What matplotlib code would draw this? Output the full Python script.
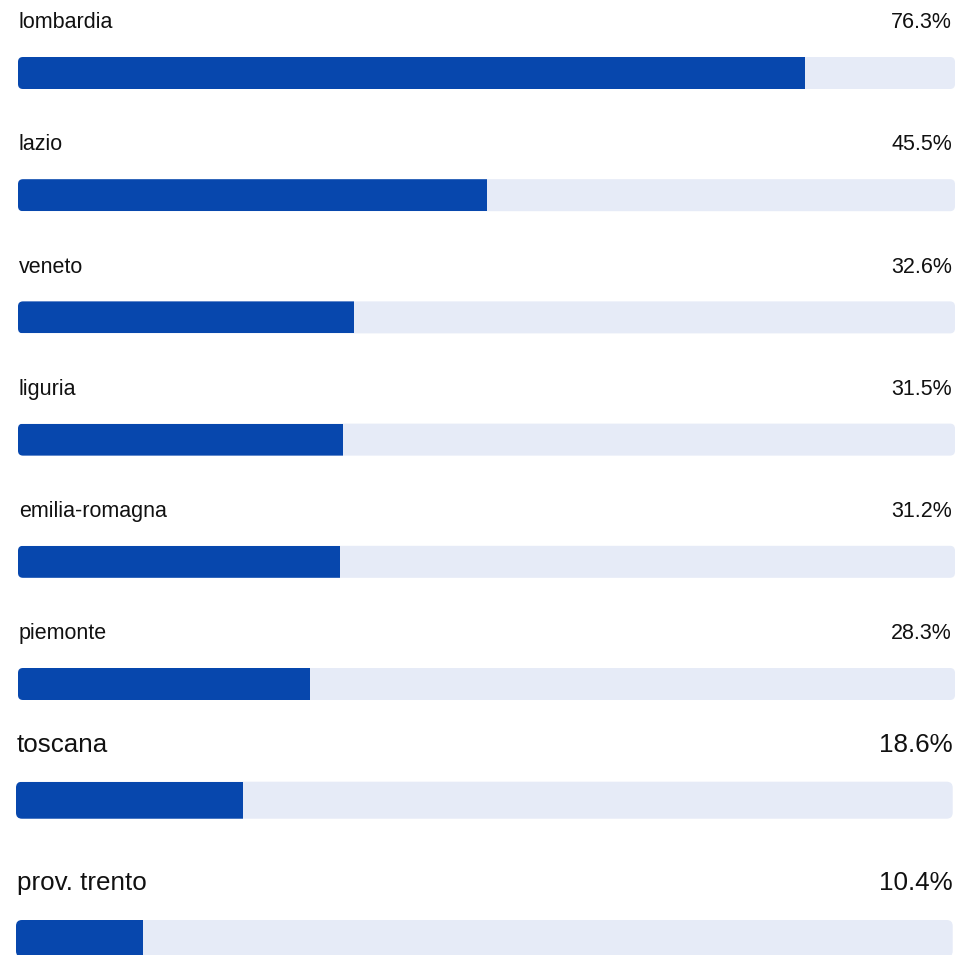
import numpy as np
import matplotlib
matplotlib.use("Agg")
import matplotlib.pyplot as plt
from matplotlib.patches import FancyBboxPatch

# share per region (%)
regions = ["lombardia", "lazio", "veneto", "liguria", "emilia-romagna",
           "piemonte", "toscana", "prov. trento"]
shares = [76.3, 45.5, 32.6, 31.5, 31.2, 28.3, 18.6, 10.4]

# the picture is two screenshots stacked; each has its own scale/look
groups = [
    dict(rows=range(0, 6), x0=18, x1=955, top0=57, step=122.2, h=32,
         base=-28.7, fs=15.5, pad=3, vmax=90.9, r=5),
    dict(rows=range(6, 8), x0=16, x1=952.7, top0=781.7, step=138.3, h=37,
         base=-30.0, fs=18.7, pad=0, vmax=76.6, r=6),
]

blue = "#0747ad"
track = "#e6ebf7"

plt.rcParams['font.family'] = ['Liberation Sans', 'DejaVu Sans']

fig = plt.figure(figsize=(9.62, 9.55), dpi=100)
ax = fig.add_axes([0, 0, 1, 1])
ax.set_xlim(0, 962)
ax.set_ylim(955, 0)
ax.axis("off")

for g in groups:
    span = g["x1"] - g["x0"]
    for j, i in enumerate(g["rows"]):
        top = g["top0"] + j * g["step"]
        tr = FancyBboxPatch((g["x0"], top), span, g["h"],
                            boxstyle="round,pad=0,rounding_size=%g" % g["r"],
                            fc=track, ec="none")
        ax.add_patch(tr)
        bars = ax.barh(top + g["h"] / 2, shares[i] / g["vmax"] * span,
                       height=g["h"], left=g["x0"], color=blue, lw=0)
        for b in bars:
            b.set_clip_path(tr)
        ax.text(g["x0"] + 1, top + g["base"], regions[i], fontsize=g["fs"],
                ha="left", va="baseline", color="#111111")
        ax.text(g["x1"] - g["pad"], top + g["base"], "%.1f%%" % shares[i],
                fontsize=g["fs"], ha="right", va="baseline", color="#111111")

fig.savefig("out.png", dpi=100)
